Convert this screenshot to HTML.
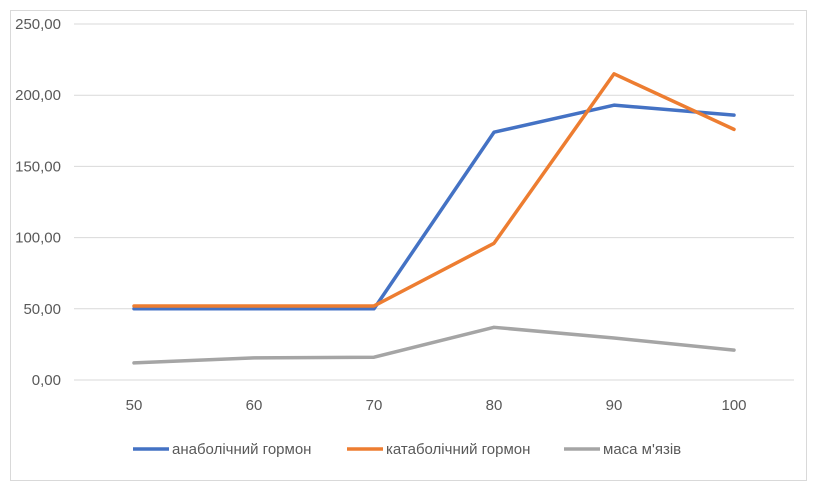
<!DOCTYPE html>
<html><head><meta charset="utf-8"><style>
body{margin:0;background:#fff;}
svg text{font-family:"Liberation Sans",sans-serif;fill:#595959;}
</style></head><body>
<svg id="chart" width="817" height="495">
<rect x="10.5" y="10.5" width="796" height="470" fill="#fff" stroke="#d9d9d9"/>
<g id="grid"></g><g id="series"></g><g id="legend"></g>
</svg>
<script>
const categories=[50,60,70,80,90,100];
const anabolic=[50,50,50,174,193,186];
const catabolic=[52,52,52,96,215,176];
const muscle=[12,15.5,16,37,29.5,21];
const yTicks=[0,50,100,150,200,250];
const yTickLabels=["0,00","50,00","100,00","150,00","200,00","250,00"];
const seriesNames=["анаболічний гормон","катаболічний гормон","маса м'язів"];
const colors=["#4472c4","#ed7d31","#a5a5a5"];
const ns="http://www.w3.org/2000/svg";
const L=74,R=794,T=24,B=380;
const x=i=>L+(R-L)/categories.length*(i+0.5);
const y=v=>B-(B-T)*v/250;
function mk(tag,at,parent,txt){const e=document.createElementNS(ns,tag);for(const k in at)e.setAttribute(k,at[k]);if(txt!==undefined)e.textContent=txt;parent.appendChild(e);return e;}
const g=document.getElementById('grid');
yTicks.forEach((t,i)=>{
 const ln=mk('line',{x1:L,x2:R,y1:y(t),y2:y(t),stroke:'#d9d9d9','stroke-width':1},g);
 
 
 const tx=mk('text',{x:61,y:y(t)+5,'text-anchor':'end','font-size':15},g,yTickLabels[i]);
 
 
});
categories.forEach((c,i)=>{
 const tx=mk('text',{x:x(i),y:410,'text-anchor':'middle','font-size':15},g,String(c));
 
 
});
const sg=document.getElementById('series');
[anabolic,catabolic,muscle].forEach((arr,s)=>{
 const p=mk('polyline',{points:arr.map((v,i)=>x(i)+','+y(v)).join(' '),fill:'none',stroke:colors[s],'stroke-width':3.5,'stroke-linejoin':'round','stroke-linecap':'round'},sg);
 
 
});
const lg=document.getElementById('legend');
const lx=[133,347,564];
seriesNames.forEach((n,s)=>{
 const ln=mk('line',{x1:lx[s],x2:lx[s]+36,y1:449,y2:449,stroke:colors[s],'stroke-width':3.5},lg);
 
 
 const tx=mk('text',{x:lx[s]+39,y:454,'font-size':15},lg,n);
 
 
});
</script>
</body></html>
